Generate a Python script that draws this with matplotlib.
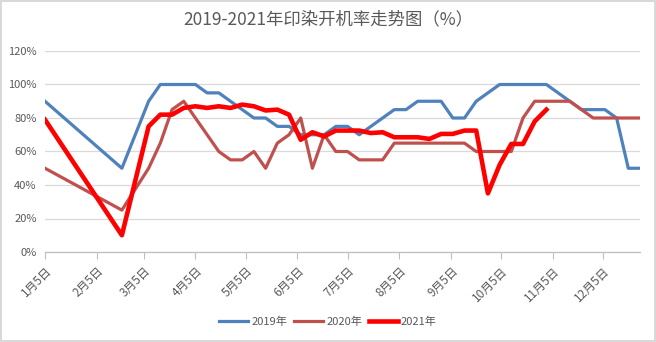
import matplotlib
matplotlib.use("Agg")
import matplotlib.pyplot as plt
import pandas as pd

plt.rcParams['font.family'] = ['Noto Sans CJK SC', 'DejaVu Sans']

title = "2019-2021年印染开机率走势图（%）"

dates = ["2021-01-05", "2021-02-20", "2021-03-08", "2021-03-15", "2021-03-22", "2021-03-29",
         "2021-04-05", "2021-04-12", "2021-04-19", "2021-04-26", "2021-05-03", "2021-05-10",
         "2021-05-17", "2021-05-24", "2021-05-31", "2021-06-07", "2021-06-14", "2021-06-21",
         "2021-06-28", "2021-07-05", "2021-07-12", "2021-07-19", "2021-07-26", "2021-08-02",
         "2021-08-09", "2021-08-16", "2021-08-23", "2021-08-30", "2021-09-06", "2021-09-13",
         "2021-09-20", "2021-09-27", "2021-10-04", "2021-10-11", "2021-10-18", "2021-10-25",
         "2021-11-01", "2021-11-08", "2021-11-15", "2021-11-22", "2021-11-29", "2021-12-06",
         "2021-12-13", "2021-12-20", "2021-12-27"]

y2019 = [90, 50, 90, 100, 100, 100, 100, 95, 95, 90, 85, 80, 80, 75, 75, 70, 70, 70, 75, 75,
         70, 75, 80, 85, 85, 90, 90, 90, 80, 80, 90, 95, 100, 100, 100, 100, 100, 95, 90, 85,
         85, 85, 80, 50, 50]
y2020 = [50, 25, 50, 65, 85, 90, 80, 70, 60, 55, 55, 60, 50, 65, 70, 80, 50, 70, 60, 60,
         55, 55, 55, 65, 65, 65, 65, 65, 65, 65, 60, 60, 60, 60, 80, 90, 90, 90, 90, 85,
         80, 80, 80, 80, 80]
y2021 = [79, 10, 75, 82, 82, 86, 87, 86, 87, 86, 88, 87, 84.5, 85, 82, 67, 71.5, 69, 72.5, 72.5,
         72.5, 71, 71.5, 68.5, 68.5, 68.5, 67.5, 70.5, 70.5, 72.5, 72.5, 35, 52, 64.5, 64.5, 78, 85]

series_names = ["2019年", "2020年", "2021年"]
tick_dates = ["2021-01-05", "2021-02-05", "2021-03-05", "2021-04-05", "2021-05-05", "2021-06-05",
              "2021-07-05", "2021-08-05", "2021-09-05", "2021-10-05", "2021-11-05", "2021-12-05"]
tick_labels = ["1月5日", "2月5日", "3月5日", "4月5日", "5月5日", "6月5日",
               "7月5日", "8月5日", "9月5日", "10月5日", "11月5日", "12月5日"]
yticks = [0, 20, 40, 60, 80, 100, 120]

x = pd.to_datetime(dates)

fig = plt.figure(figsize=(6.56, 3.42), dpi=100)
fig.patch.set_facecolor('white')
fig.patch.set_edgecolor('#D9D9D9')
fig.patch.set_linewidth(1.5)

ax = fig.add_axes([45/656, 1-252/342, (640-45)/656, (252-51)/342])

ax.plot(x, y2019, color='#4F81BD', lw=2.3, label=series_names[0], solid_joinstyle='round', zorder=3)
ax.plot(x, y2020, color='#C0504D', lw=2.3, label=series_names[1], solid_joinstyle='round', zorder=3)
ax.plot(x[:len(y2021)], y2021, color='#FF0000', lw=3.3, label=series_names[2], solid_joinstyle='round', zorder=4)

ax.set_ylim(0, 120)
ax.set_yticks(yticks)
ax.set_yticklabels(["%d%%" % v for v in yticks])
ax.set_xlim(x[0], x[-1])
ax.set_xticks(pd.to_datetime(tick_dates))
ax.set_xticklabels(tick_labels, rotation=45, ha='right', rotation_mode='anchor')

ax.grid(axis='y', color='#D9D9D9', lw=0.9, zorder=0)
for s in ['top', 'right', 'left']:
    ax.spines[s].set_visible(False)
ax.spines['bottom'].set_color('#BFBFBF')
ax.spines['bottom'].set_linewidth(0.9)
ax.tick_params(axis='y', length=0, labelsize=8, labelcolor='#595959', pad=6)
ax.tick_params(axis='x', length=5, color='#BFBFBF', labelsize=8.5, labelcolor='#595959', pad=4)

fig.text(0.5, 1-19/342, title, ha='center', va='center', fontsize=12.5, color='#595959')

fig.legend(loc='center', bbox_to_anchor=(0.5, 1-322/342), ncol=3, frameon=False,
           fontsize=8, labelcolor='#595959', handlelength=2.6, columnspacing=0.6,
           handletextpad=0.3)

fig.savefig("out.png", dpi=100, facecolor=fig.get_facecolor(), edgecolor=fig.get_edgecolor())
